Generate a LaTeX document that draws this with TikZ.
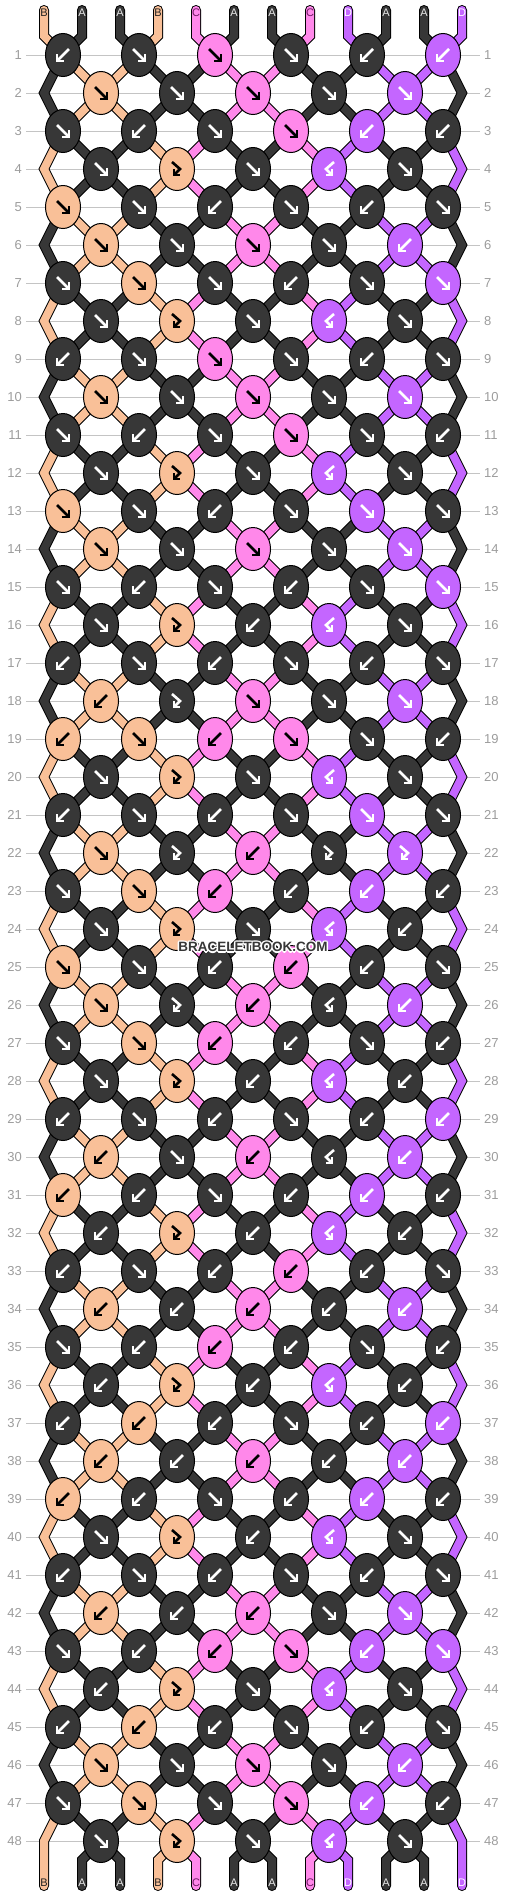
\documentclass[tikz,border=0pt]{standalone}
\usepackage{fontspec}
\setmainfont{Liberation Sans}
\usetikzlibrary{shapes.geometric}

\definecolor{strA}{HTML}{373737}
\definecolor{strB}{HTML}{F9C098}
\definecolor{strC}{HTML}{FF88EA}
\definecolor{strD}{HTML}{C466FF}
\definecolor{markA}{HTML}{FFFFFF}
\definecolor{markB}{HTML}{000000}
\definecolor{markC}{HTML}{000000}
\definecolor{markD}{HTML}{FFFFFF}
\definecolor{nameA}{HTML}{E8E8E8}
\definecolor{nameB}{HTML}{202020}
\definecolor{nameC}{HTML}{6E1A63}
\definecolor{nameD}{HTML}{FFFFFF}
\definecolor{rowline}{HTML}{C4C4C4}
\definecolor{rowtext}{HTML}{9C9C9C}

\pgfdeclarelayer{grid}
\pgfdeclarelayer{strands}
\pgfsetlayers{grid,strands,main}

\def\typef{f}\def\typeb{b}\def\typefb{fb}\def\typebf{bf}

% x of string #2 at row #1 into #3 (row 0 = top bend, row 49 = bottom bend)
\newcommand\StringX[3]{%
    \pgfmathtruncatemacro\rowodd{mod(#1,2)}%
    \ifnum#1=0 \pgfmathsetmacro#3{44+38*#2}%
    \else\ifnum#1=49 \pgfmathsetmacro#3{44+38*#2}%
    \else\ifnum\rowodd=1 \pgfmathsetmacro#3{63+76*floor(#2/2)}%
    \else\ifnum#2=0 \def#3{44}%
    \else\ifnum#2=11 \def#3{462}%
    \else \pgfmathsetmacro#3{101+76*floor((#2-1)/2)}%
    \fi\fi\fi\fi\fi
}
% forward / backward knot: the two strings change places
\newcommand\SwapStrings{%
    \expandafter\xdef\csname s\pl\endcsname{\cright}%
    \expandafter\xdef\csname s\pr\endcsname{\cleft}%
}
% arrow of a knot: #1 type, #2 string letter, #3 knot node
\newcommand\KnotMark[3]{%
    \edef\marktype{#1}%
    \begin{scope}[shift={(#3.center)}, knotarrow=#2]
    \ifx\marktype\typef
        \draw (-6,-6) -- (5,5); \draw (6,-1) -- (6,6) -- (-1,6);
    \fi
    \ifx\marktype\typeb
        \draw (6,-6) -- (-5,5); \draw (-6,-1) -- (-6,6) -- (1,6);
    \fi
    \ifx\marktype\typefb
        \draw (-5,-7) -- (3,0) -- (-2,5); \draw (-3,0) -- (-3,6) -- (3,6);
    \fi
    \ifx\marktype\typebf
        \draw (5,-7) -- (-3,0) -- (2,5); \draw (3,0) -- (3,6) -- (-3,6);
    \fi
    \end{scope}
}

\tikzset{%
    strand/.style={draw=black, line width=1pt, double=str#1,
        double distance=8pt, line join=miter},
    knot/.style={ellipse, draw=black, line width=1pt, fill=str#1,
        minimum width=35pt, minimum height=43pt, inner sep=0pt},
    knotarrow/.style={color=mark#1, line width=2.6pt, line join=miter},
    rownum/.style={text=rowtext, font=\fontsize{13}{13}\selectfont, inner sep=0pt},
    strname/.style={text=name#1, font=\fontsize{11}{11}\selectfont, inner sep=0pt},
    brand/.style={font=\fontsize{13.5}{14}\selectfont\bfseries, inner sep=0pt}%
}

\begin{document}
\begin{tikzpicture}[x=1pt, y=-1pt] % one unit = one pixel, rows run down

    \useasboundingbox (0,0) rectangle (506,1896);

    % row lines and row numbers
    \begin{pgfonlayer}{grid}
    \foreach \row in {1,...,48}{
        \pgfmathsetmacro\y{55+38*(\row-1)}
        \draw[draw=rowline, line width=1pt] (26,\y) -- (480,\y);
    }
    \end{pgfonlayer}
    \foreach \row in {1,...,48}{
        \pgfmathsetmacro\y{55+38*(\row-1)}
        \node[rownum, anchor=east] (nl-\row) at (22,\y) {\row};
        \node[rownum, anchor=west] (nr-\row) at (484,\y) {\row};
    }

    % where each string passes in each row
    \foreach \row in {0,...,49}{
        \ifnum\row=0 \def\sy{36}\else\ifnum\row=49 \def\sy{1860}\else
            \pgfmathsetmacro\sy{55+38*(\row-1)}\fi\fi
        \foreach \p in {0,...,11}{
            \StringX{\row}{\p}{\sx}
            \coordinate (p-\row-\p) at (\sx,\sy);
        }
    }
    \foreach \p in {0,...,11}{
        \coordinate (top-\p) at ({44+38*\p},10);
        \coordinate (bot-\p) at ({44+38*\p},1886);
    }

    % strings at the start
    \foreach \col [count=\p from 0] in {B,A,A,B,C,A,A,C,D,A,A,D}{
        \expandafter\xdef\csname s\p\endcsname{\col}
        \begin{pgfonlayer}{strands}
        \draw[strand=\col, line cap=round] (top-\p) -- (p-0-\p) -- (p-1-\p);
        \end{pgfonlayer}
        \node[strname=\col] (start-\p) at ({44+38*\p},13) {\col};
    }

    % knots row by row: f, b, fb, bf
    \foreach \row/\knots in {
        1/{b,f,f,f,b,b}, 2/{f,f,f,f,f}, 3/{f,b,f,f,b,b}, 4/{f,fb,f,bf,f},
        5/{f,f,b,f,b,f}, 6/{f,f,f,f,b}, 7/{f,f,f,b,f,f}, 8/{f,fb,f,bf,f},
        9/{b,f,f,f,b,f}, 10/{f,f,f,f,f}, 11/{f,b,f,f,f,b}, 12/{f,fb,f,bf,f},
        13/{f,f,b,f,f,f}, 14/{f,f,f,f,f}, 15/{f,b,f,b,f,f}, 16/{f,fb,b,bf,f},
        17/{b,f,b,f,b,f}, 18/{b,fb,f,f,f}, 19/{b,f,b,f,f,b}, 20/{f,fb,f,bf,f},
        21/{b,f,b,f,f,f}, 22/{f,fb,b,fb,fb}, 23/{f,f,b,b,b,b}, 24/{f,fb,f,bf,b},
        25/{f,f,b,b,b,f}, 26/{f,fb,b,bf,b}, 27/{f,f,b,b,f,b}, 28/{f,fb,b,bf,b},
        29/{b,f,b,f,b,b}, 30/{b,f,b,bf,b}, 31/{b,b,f,b,b,b}, 32/{b,fb,b,bf,b},
        33/{b,f,b,b,b,f}, 34/{b,b,b,b,b}, 35/{f,b,b,b,f,b}, 36/{b,fb,b,bf,b},
        37/{b,b,b,f,b,b}, 38/{b,b,b,b,b}, 39/{b,b,f,b,b,b}, 40/{f,fb,b,bf,f},
        41/{b,f,b,f,b,f}, 42/{b,b,b,f,f}, 43/{f,b,b,f,b,f}, 44/{b,fb,f,bf,f},
        45/{b,b,b,f,b,f}, 46/{f,f,f,f,b}, 47/{f,f,f,f,b,b}, 48/{f,fb,f,bf,f}}{
        \pgfmathtruncatemacro\rowodd{mod(\row,2)}
        \pgfmathtruncatemacro\prv{\row-1}
        \pgfmathtruncatemacro\nxt{\row+1}
        \ifnum\rowodd=1 \def\first{0}\else\def\first{1}\fi
        \foreach \kt [count=\kn from 0] in \knots {
            \pgfmathtruncatemacro\pl{\first+2*\kn}
            \pgfmathtruncatemacro\pr{\pl+1}
            \edef\cleft{\csname s\pl\endcsname}
            \edef\cright{\csname s\pr\endcsname}
            \edef\ktype{\kt}
            \ifx\ktype\typef \let\ckn\cleft \else
                \ifx\ktype\typefb \let\ckn\cleft \else \let\ckn\cright \fi\fi
            \node[knot=\ckn] (k-\row-\kn) at (p-\row-\pl) {};
            \KnotMark{\ktype}{\ckn}{k-\row-\kn}
            \ifx\ktype\typef \SwapStrings \fi
            \ifx\ktype\typeb \SwapStrings \fi
        }
        % strings down to the next row
        \begin{pgfonlayer}{strands}
        \foreach \p in {0,...,11}{
            \edef\col{\csname s\p\endcsname}
            \pgfmathtruncatemacro\isedge{(\p==0)||(\p==11)}
            \ifnum\isedge=1
                \ifnum\rowodd=0
                    \ifnum\row=48
                        \draw[strand=\col, line cap=round] (p-\prv-\p) -- (p-\row-\p) -- (p-\nxt-\p) -- (bot-\p);
                    \else
                        \draw[strand=\col] (p-\prv-\p) -- (p-\row-\p) -- (p-\nxt-\p);
                    \fi
                \fi
            \else
                \ifnum\row=48
                    \draw[strand=\col, line cap=round] (p-\row-\p) -- (p-\nxt-\p) -- (bot-\p);
                \else
                    \draw[strand=\col] (p-\row-\p) -- (p-\nxt-\p);
                \fi
            \fi
        }
        \end{pgfonlayer}
    }

    % strings at the end
    \foreach \p in {0,...,11}{
        \edef\col{\csname s\p\endcsname}
        \node[strname=\col] (end-\p) at ({44+38*\p},1883) {\col};
    }

    % watermark
    \foreach \a in {0,45,...,315}{
        \node[brand, text=white] (halo-\a) at ([shift={(\a:1.4)}]253,947) {BRACELETBOOK.COM};
    }
    \node[brand, text=strA] (brand) at (253,947) {BRACELETBOOK.COM};

\end{tikzpicture}
\end{document}
